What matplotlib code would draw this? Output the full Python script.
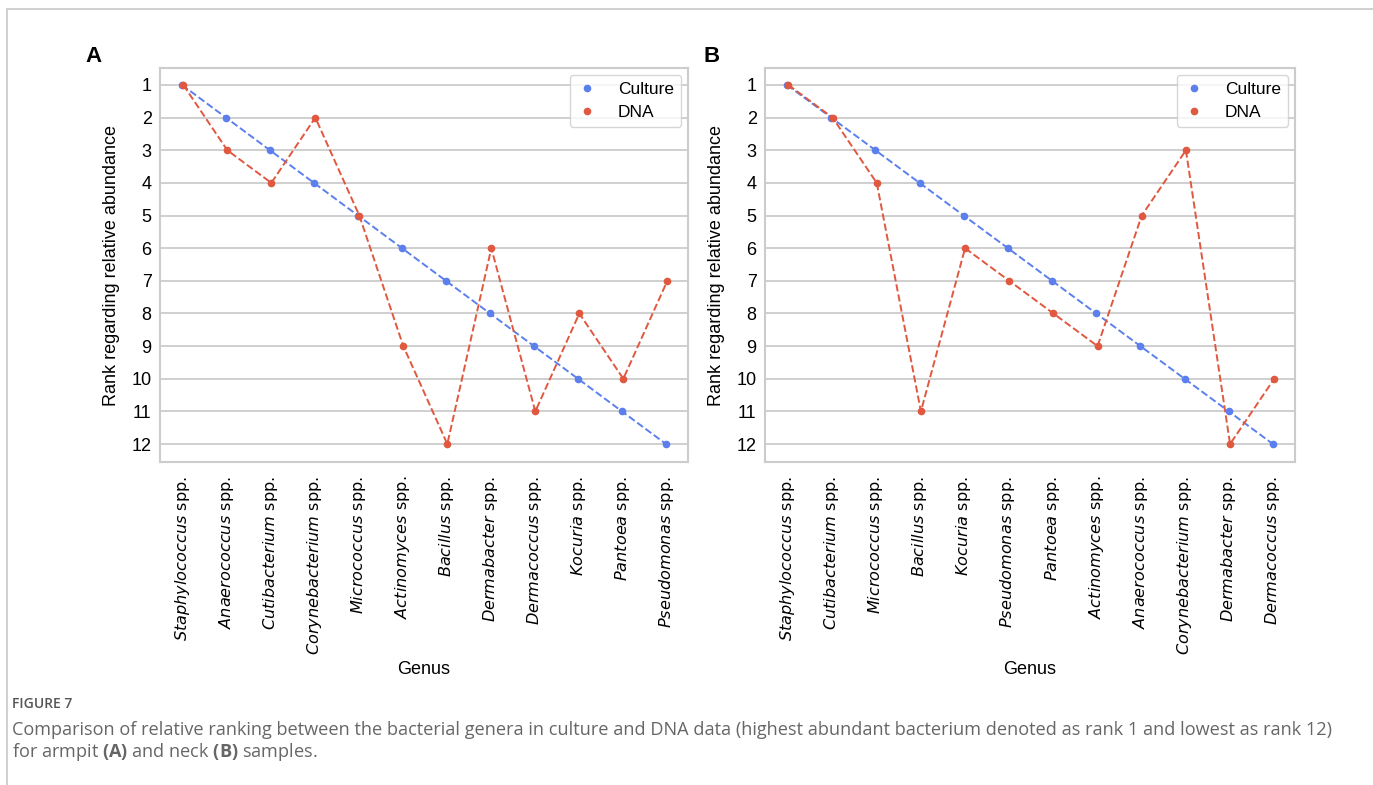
import numpy as np
import matplotlib.pyplot as plt
from matplotlib.patches import Rectangle

genera_a = ["Staphylococcus", "Anaerococcus", "Cutibacterium", "Corynebacterium",
            "Micrococcus", "Actinomyces", "Bacillus", "Dermabacter",
            "Dermacoccus", "Kocuria", "Pantoea", "Pseudomonas"]
culture_a = [1, 2, 3, 4, 5, 6, 7, 8, 9, 10, 11, 12]
dna_a = [1, 3, 4, 2, 5, 9, 12, 6, 11, 8, 10, 7]

genera_b = ["Staphylococcus", "Cutibacterium", "Micrococcus", "Bacillus",
            "Kocuria", "Pseudomonas", "Pantoea", "Actinomyces",
            "Anaerococcus", "Corynebacterium", "Dermabacter", "Dermacoccus"]
culture_b = [1, 2, 3, 4, 5, 6, 7, 8, 9, 10, 11, 12]
dna_b = [1, 2, 4, 11, 6, 7, 8, 9, 5, 3, 12, 10]

C_CULT = "#5b80ee"
C_DNA = "#e0583f"
GRID = "#cccccc"

plt.rcParams['font.family'] = ['Liberation Sans', 'DejaVu Sans']
plt.rcParams['mathtext.fontset'] = 'custom'
plt.rcParams['mathtext.rm'] = 'DejaVu Sans'
plt.rcParams['mathtext.it'] = 'DejaVu Sans:italic'
plt.rcParams['mathtext.bf'] = 'Open Sans:bold'

W, H = 1373, 785
fig = plt.figure(figsize=(W / 100, H / 100), dpi=100)

# outer frame of the figure panel
fig.patches.append(Rectangle((7 / W, -0.1), 1.2, (H - 9) / H + 0.1,
                             transform=fig.transFigure, fill=False,
                             edgecolor="#c8c8c8", lw=1.2))


def panel(rect, genera, culture, dna, letter, letter_x):
    ax = fig.add_axes(rect)
    x = np.arange(len(genera))
    ax.plot(x, culture, ls="--", color=C_CULT, lw=1.4, marker="o", ms=4.5,
            label="Culture", zorder=3)
    ax.plot(x + 0.03, dna, ls="--", color=C_DNA, lw=1.4, marker="o", ms=4.5,
            label="DNA", zorder=3)
    ax.set_xlim(-0.5, len(genera) - 0.5)
    ax.set_ylim(12.55, 0.48)
    ax.set_yticks(range(1, 13))
    ax.set_xticks(x)
    ax.set_xticklabels([r"$\it{" + g + r"}$ spp." for g in genera],
                       rotation=90, family="DejaVu Sans", fontsize=11.6)
    ax.tick_params(axis="y", labelsize=13, length=0, pad=6)
    ax.tick_params(axis="x", length=0, pad=10)
    ax.yaxis.grid(True, color=GRID, lw=1.3)
    ax.set_axisbelow(True)
    for s in ax.spines.values():
        s.set_color(GRID)
        s.set_linewidth(1.5)
    ax.set_ylabel("Rank regarding relative abundance", fontsize=13, labelpad=8)
    ax.set_xlabel("Genus", fontsize=13, labelpad=4)
    leg = ax.legend(loc="upper right", fontsize=12.5, handlelength=1.2,
                    handletextpad=1.2, borderpad=0.4, labelspacing=0.45,
                    borderaxespad=0.4)
    for h in leg.get_lines():
        h.set_linestyle("")
    leg.get_frame().set_edgecolor(GRID)
    fig.text(letter_x / W, 1 - 57 / H, letter, fontsize=16,
             fontweight="bold", ha="center", va="center")
    return ax


panel([160 / W, (H - 462) / H, 528 / W, 394 / H], genera_a, culture_a, dna_a, "A", 93)
panel([765 / W, (H - 462) / H, 530 / W, 394 / H], genera_b, culture_b, dna_b, "B", 712)

cap_font = ['Open Sans', 'DejaVu Sans']
fig.text(12 / W, 1 - 704 / H, "FIGURE 7", fontsize=10, color="#555555",
         family=cap_font, fontweight="semibold", va="center")
fig.text(12 / W, 1 - 730 / H,
         "Comparison of relative ranking between the bacterial genera in culture and DNA data "
         "(highest abundant bacterium denoted as rank 1 and lowest as rank 12)",
         fontsize=13.1, color="#666666", family=cap_font, va="center")
fig.text(12 / W, 1 - 752 / H,
         r"for armpit $\bf{(A)}$ and neck $\bf{(B)}$ samples.",
         fontsize=13.1, color="#666666", family=cap_font, va="center")

fig.savefig("out.png", dpi=100)
